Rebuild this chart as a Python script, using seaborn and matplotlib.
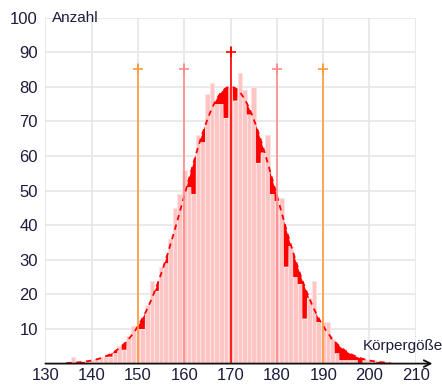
import numpy as np
import pandas as pd
import matplotlib
matplotlib.use("Agg")
import matplotlib.pyplot as plt
import seaborn as sns

# ---- data -------------------------------------------------------------
heights = list(range(135, 205))
counts = [0, 2, 0, 0, 1, 1, 1, 2, 2, 2,      # 135-144
          3, 5, 4, 8, 11, 10, 10, 17, 24, 21,  # 145-154
          28, 29, 36, 45, 49, 56, 51, 49, 66, 64,  # 155-164
          78, 81, 75, 75, 71, 80, 76, 84, 79, 72,  # 165-174
          80, 58, 61, 66, 49, 47, 48, 28, 34, 25,  # 175-184
          23, 13, 19, 24, 12, 12, 12, 7, 3, 1,     # 185-194
          1, 1, 1, 0, 1, 1, 1, 0, 0, 0]            # 195-204
mu, sigma, peak = 170, 10, 80
mark_x = [150, 160, 170, 180, 190]
mark_top = [85, 85, 90, 85, 85]
mark_colors = ["#FF9A3C", "#FF8A8A", "#FF0000", "#FF8A8A", "#FF9A3C"]
xticks = list(range(130, 211, 10))
yticks = list(range(10, 101, 10))

df = pd.DataFrame({"h": heights, "n": counts})

# ---- figure -----------------------------------------------------------
sns.set_theme(style="white")
plt.rcParams["font.family"] = ["Liberation Sans", "DejaVu Sans"]
fig = plt.figure(figsize=(4.42, 3.85), dpi=100)
ax = fig.add_axes([0.1027, 0.0556, 0.838, 0.8987])
ax.set_xlim(130, 210)
ax.set_ylim(0, 100)

# grid
for gx in xticks:
    ax.plot([gx, gx], [0, 100], color="#E6E6E6", lw=1.2, zorder=0)
for gy in yticks:
    ax.plot([130, 210], [gy, gy], color="#E6E6E6", lw=1.2, zorder=0)

# histogram bars
sns.histplot(data=df, x="h", weights="n", discrete=True, ax=ax,
             color="#FFC4C4", edgecolor="#FFE2E2", linewidth=0.8,
             alpha=1, zorder=2)

# normal curve and red fill where curve exceeds bar
xs = np.linspace(heights[0] - 0.5, heights[-1] + 0.5, 2000)
curve = peak * np.exp(-((xs - mu) ** 2) / (2 * sigma ** 2))
idx = np.clip(np.round(xs - heights[0]).astype(int), 0, len(counts) - 1)
step = np.array(counts)[idx]
ax.fill_between(xs, step, curve, where=curve > step, interpolate=True,
                color="#FF0000", lw=0, zorder=3)
sns.lineplot(x=xs, y=curve, ax=ax, color="#FF0000", lw=1.3,
             linestyle=(0, (3, 2.5)), zorder=4)

# marker lines
for mx, mt, mc in zip(mark_x, mark_top, mark_colors):
    ax.plot([mx, mx], [0, mt + 1.5], color=mc, lw=1.2, zorder=5)
    ax.plot([mx], [mt], marker="+", color=mc, ms=7, mew=1.2, zorder=5)

# axes styling
for s in ax.spines.values():
    s.set_visible(False)
ax.set_xticks(xticks)
ax.set_yticks(yticks)
ax.tick_params(axis="y", direction="inout", length=7, width=1.5,
               color="#555555", labelsize=12, labelcolor="#1c1c3c", pad=2)
ax.tick_params(axis="x", direction="inout", length=5, width=1,
               color="#333333", labelsize=12, labelcolor="#1c1c3c", pad=1)
ax.set_xlabel("")
ax.set_ylabel("")

# x axis with arrow
ax.annotate("", xy=(213.6, 0), xytext=(130, 0),
            arrowprops=dict(arrowstyle="->", color="#111111", lw=1.3,
                            mutation_scale=12, shrinkA=0, shrinkB=0),
            annotation_clip=False, zorder=6)

ax.text(131.5, 100, "Anzahl", fontsize=11, color="#1c1c3c",
        va="center", ha="left")
ax.text(198.6, 5.2, "Körpergöße", fontsize=11, color="#1c1c3c",
        va="center", ha="left", clip_on=False)

fig.savefig("out.png", dpi=100)
